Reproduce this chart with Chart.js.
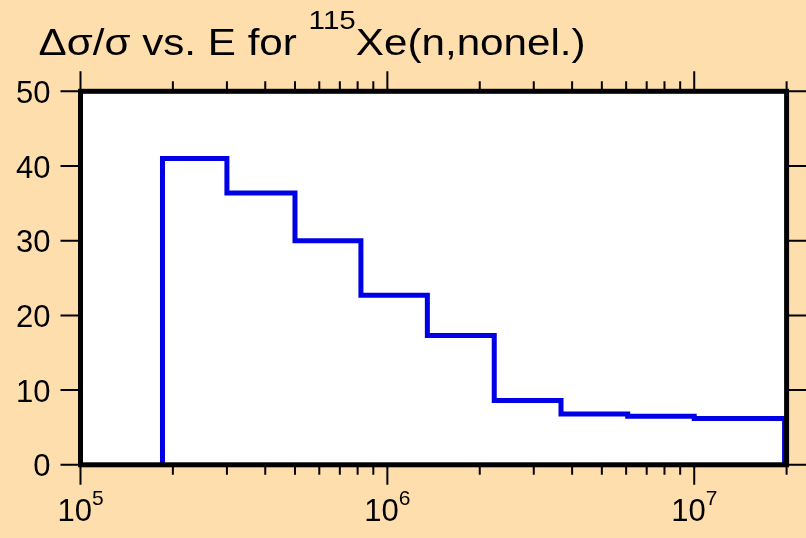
<!DOCTYPE html>
<html>
<head>
<meta charset="utf-8">
<script src="https://cdn.jsdelivr.net/npm/chart.js@4.4.1/dist/chart.umd.min.js"></script>
<style>
  html, body { margin: 0; padding: 0; background: #FEDEAC; }
  canvas { display: block; }
</style>
</head>
<body>
<canvas id="chart" width="806" height="538"></canvas>
<script>
// bin edges (eV) and relative uncertainty (%) per bin
const binEdges = [1.85e5, 3.0e5, 5.0e5, 8.2e5, 1.35e6, 2.23e6, 3.68e6, 6.07e6, 1.0e7, 1.97e7];
const relUncertainty = [41.0, 36.4, 30.0, 22.7, 17.3, 8.6, 6.8, 6.5, 6.2];

const yTicks = [0, 10, 20, 30, 40, 50];
const xDecadeExps = [5, 6, 7];
const xMin = 1e5;
const xMax = 2e7;

const titleMain = "\u0394\u03c3/\u03c3 vs. E for ";
const titleSup = "115";
const titleRest = "Xe(n,nonel.)";

const FONT = '"Liberation Sans", Arial, sans-serif';
const TITLE_SX = 1.14; // the reference title is a bit wide

// step line: start at 0, walk the bins, drop back to 0 at the last edge
const points = [{ x: binEdges[0], y: 0 }];
relUncertainty.forEach((v, i) => points.push({ x: binEdges[i], y: v }));
points.push({ x: binEdges[binEdges.length - 1], y: 0 });

function drawText(ctx, text, x, y, size, align, sx) {
  sx = sx || 1;
  ctx.save();
  ctx.font = size + "px " + FONT;
  const w = ctx.measureText(text).width * sx;
  let x0 = x;
  if (align === "right") x0 = x - w;
  else if (align === "center") x0 = x - w / 2;
  ctx.translate(x0, y);
  ctx.scale(sx, 1);
  ctx.textAlign = "left";
  ctx.textBaseline = "alphabetic";
  ctx.fillStyle = "#000";
  ctx.fillText(text, 0, 0);
  ctx.restore();
  return w;
}

function textWidth(ctx, text, size) {
  ctx.save();
  ctx.font = size + "px " + FONT;
  const w = ctx.measureText(text).width;
  ctx.restore();
  return w;
}

const framePlugin = {
  id: "frame",
  beforeDraw(chart) {
    const { ctx, chartArea: a } = chart;
    ctx.save();
    ctx.fillStyle = "#FEDEAC";
    ctx.fillRect(0, 0, chart.width, chart.height);
    ctx.fillStyle = "#FFFFFF";
    ctx.fillRect(a.left, a.top, a.right - a.left, a.bottom - a.top);
    ctx.restore();
  },
  afterDatasetsDraw(chart) {
    const { ctx, chartArea: a, scales } = chart;
    const xs = scales.x, ys = scales.y;
    ctx.save();

    // ticks
    ctx.strokeStyle = "#000";
    ctx.lineWidth = 2;
    ctx.beginPath();
    // y ticks, both sides, outward
    yTicks.forEach((t) => {
      const py = ys.getPixelForValue(t);
      ctx.moveTo(a.left - 20, py); ctx.lineTo(a.left, py);
      ctx.moveTo(a.right, py); ctx.lineTo(a.right + 20, py);
    });
    // x ticks, top and bottom, outward
    for (let e = 5; e <= 7; e++) {
      for (let m = 1; m <= 9; m++) {
        const v = m * Math.pow(10, e);
        if (v < xMin || v > xMax) continue;
        const px = xs.getPixelForValue(v);
        const len = m === 1 ? 20 : 10;
        ctx.moveTo(px, a.bottom); ctx.lineTo(px, a.bottom + len);
        ctx.moveTo(px, a.top); ctx.lineTo(px, a.top - len);
      }
    }
    ctx.stroke();

    // frame
    ctx.lineWidth = 5;
    ctx.strokeRect(a.left, a.top, a.right - a.left, a.bottom - a.top);

    // y labels
    yTicks.forEach((t) => {
      const py = ys.getPixelForValue(t);
      drawText(ctx, String(t), a.left - 30, py + 11.5, 31, "right");
    });

    // x labels 10^n
    xDecadeExps.forEach((e) => {
      const px = xs.getPixelForValue(Math.pow(10, e));
      const wBase = textWidth(ctx, "10", 31);
      const wExp = textWidth(ctx, String(e), 21);
      const x0 = px - (wBase + wExp) / 2;
      drawText(ctx, "10", x0, 521, 31, "left");
      drawText(ctx, String(e), x0 + wBase, 505, 21, "left");
    });

    // title
    let tx = 38.5;
    tx += drawText(ctx, titleMain, tx, 55, 37, "left", TITLE_SX);
    tx += drawText(ctx, titleSup, tx, 29, 26, "left", TITLE_SX);
    drawText(ctx, titleRest, tx, 55, 37, "left", TITLE_SX);

    ctx.restore();
  },
};

new Chart(document.getElementById("chart"), {
  type: "line",
  data: {
    datasets: [
      {
        data: points,
        stepped: "before",
        borderColor: "#0000E6",
        borderWidth: 5,
        pointRadius: 0,
        fill: false,
        clip: false,
        borderJoinStyle: "miter",
      },
    ],
  },
  options: {
    responsive: false,
    animation: false,
    devicePixelRatio: 1,
    layout: { padding: { left: 80.5, top: 91.3, right: 19.4, bottom: 73.2 } },
    plugins: { legend: { display: false }, tooltip: { enabled: false }, title: { display: false } },
    scales: {
      x: { type: "logarithmic", min: xMin, max: xMax, display: false },
      y: { type: "linear", min: 0, max: 50, display: false },
    },
  },
  plugins: [framePlugin],
});
</script>
</body>
</html>
